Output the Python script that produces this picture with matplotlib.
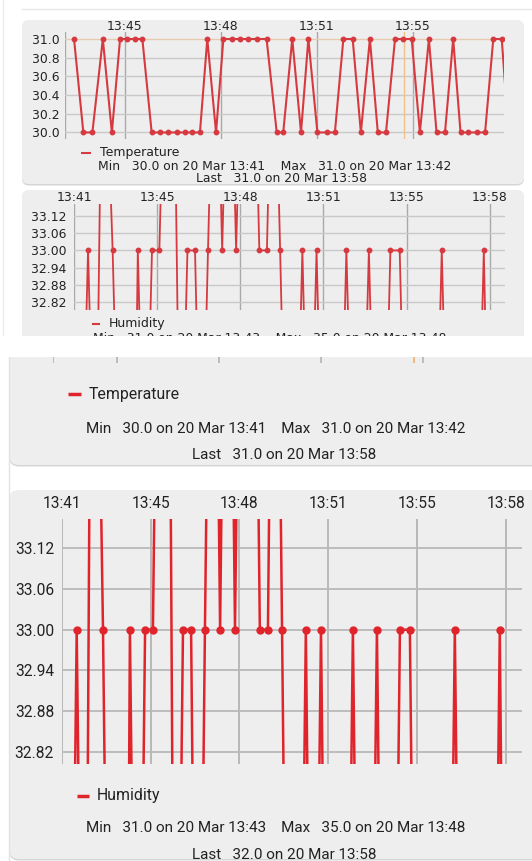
import matplotlib
matplotlib.use('Agg')
import matplotlib.pyplot as plt
import matplotlib.transforms as mtransforms
from matplotlib.patches import FancyBboxPatch, Rectangle
from matplotlib.lines import Line2D

# minutes after 13:41
tick_pos = [0, 3.4, 6.8, 10.2, 13.6, 17.0]
tick_lab = ['13:41', '13:45', '13:48', '13:51', '13:55', '13:58']

temp_t = [1.61, 1.94, 2.26, 2.63, 2.95, 3.24, 3.48, 3.77, 4.03, 4.36, 4.66, 4.95,
          5.25, 5.54, 5.78, 6.07, 6.33, 6.64, 6.90, 7.20, 7.49, 7.78, 8.08, 8.43,
          8.79, 9.02, 9.34, 9.65, 9.91, 10.23, 10.56, 10.85, 11.15, 11.48, 11.77,
          12.09, 12.37, 12.66, 12.98, 13.27, 13.57, 13.86, 14.18, 14.45, 14.75,
          15.04, 15.30, 15.57, 15.87, 16.17, 16.46, 16.76, 17.00]
temp_v = [31, 30, 30, 31, 30, 31, 31, 31, 31, 30, 30, 30,
          30, 30, 30, 30, 31, 30, 31, 31, 31, 31, 31, 31,
          30, 30, 31, 30, 31, 30, 30, 30, 31, 31, 30,
          31, 30, 30, 31, 31, 31, 30, 31, 30, 30,
          31, 30, 30, 30, 30, 31, 31, 30]

hum_t = [0.0, 0.28, 0.574, 0.88, 1.18, 1.58, 1.88, 2.31, 2.61, 2.90, 3.19, 3.49,
         3.79, 4.05, 4.35, 4.64, 4.95, 5.20, 5.48, 5.78, 6.06, 6.35, 6.63, 6.93,
         7.12, 7.30, 7.58, 7.89, 8.15, 8.43, 8.70, 9.05, 9.34, 9.62, 9.92, 10.20,
         10.50, 10.85, 11.14, 11.44, 11.75, 12.06, 12.35, 12.65, 12.94, 13.32,
         13.60, 13.90, 14.20, 14.50, 14.75, 15.04, 15.33, 15.60, 15.90, 16.20,
         16.47, 16.76, 17.00]
hum_v = [32, 32, 33, 32, 34, 33, 32, 31, 33, 32, 33, 33,
         34, 34, 32, 33, 33, 32, 33, 34, 33, 34, 33, 34,
         35, 34, 33, 33, 34, 33, 32, 32, 33, 32, 33, 32,
         32, 32, 33, 32, 32, 33, 32, 32, 33, 33,
         32, 32, 32, 32, 32, 33, 32, 32, 32, 32,
         32, 33, 32]

temp_yticks = [30.0, 30.2, 30.4, 30.6, 30.8, 31.0]
hum_yticks = [32.82, 32.88, 32.94, 33.00, 33.06, 33.12]
marker_t = 13.3   # orange cursor line

temp_stats = ['Min   30.0 on 20 Mar 13:41    Max   31.0 on 20 Mar 13:42',
              'Last   31.0 on 20 Mar 13:58']
hum_stats = ['Min   31.0 on 20 Mar 13:43    Max   35.0 on 20 Mar 13:48',
             'Last   32.0 on 20 Mar 13:58']

RED = '#e0242c'
RED_S = '#d63a40'
CARD = '#eeeeee'

W, H = 532, 861
fig = plt.figure(figsize=(W / 100, H / 100), dpi=100)
fig.patch.set_facecolor('white')
PX = mtransforms.Affine2D().scale(1 / 100) + fig.dpi_scale_trans


def card(x0, y0, x1, y1, r):
    sh = FancyBboxPatch((x0, H - y1 - 1.5), x1 - x0, y1 - y0,
                        boxstyle=f'round,pad=0,rounding_size={r}',
                        transform=PX, fc='#d6d6d6', ec='none', zorder=-2)
    body = FancyBboxPatch((x0, H - y1), x1 - x0, y1 - y0,
                          boxstyle=f'round,pad=0,rounding_size={r}',
                          transform=PX, fc=CARD, ec='none', zorder=-1)
    fig.patches.extend([sh, body])


def add_ax(x0, y0, x1, y1):
    ax = fig.add_axes([x0 / W, 1 - y1 / H, (x1 - x0) / W, (y1 - y0) / H])
    ax.set_facecolor('none')
    for s in ax.spines.values():
        s.set_visible(False)
    return ax


def text(x, y, s, **kw):
    fig.text(x, H - y, s, transform=PX, va='center', **kw)


def legend(x, y, name, dash, fs, family, color, lw, gap=9):
    fig.lines.append(Line2D([x, x + dash], [H - y, H - y], transform=PX,
                            color=color, lw=lw, solid_capstyle='butt'))
    text(x + dash + gap, y, name, fontsize=fs, family=family, color='#222222')


def grid(ax, xs, ys, vcol, hcol, lw):
    for x in xs:
        ax.axvline(x, color=vcol, lw=lw, zorder=1)
    for y in ys:
        ax.axhline(y, color=hcol, lw=lw, zorder=1)


# faint page edges
fig.lines.append(Line2D([2.5, 2.5], [H, H - 336], transform=PX, color='#ececec', lw=1))
fig.lines.append(Line2D([22, 532], [H - 8.5, H - 8.5], transform=PX, color='#e6e6e6', lw=1))
fig.lines.append(Line2D([8.5, 8.5], [H - 350, 0], transform=PX, color='#e2e2e2', lw=1))

# ---- small temperature chart
card(22, 20, 524, 184, 7)
ax = add_ax(65, 32, 504, 139)
ax.set_xlim(1.29, 16.84)
ax.set_ylim(29.93, 31.075)
grid(ax, [1.29] + tick_pos[1:5], temp_yticks[:-1], '#a9a9a9', '#c9c9c9', 1.0)
ax.axhline(31.0, color='#e6cbb0', lw=1.0, zorder=1)
ax.axvline(marker_t, color='#f2c08a', lw=1.0, zorder=1)
ax.plot(temp_t, temp_v, color=RED_S, lw=1.5, marker='o', ms=3.2, zorder=3)
ax.set_xticks(tick_pos[1:5])
ax.set_xticklabels(tick_lab[1:5])
ax.set_yticks(temp_yticks)
ax.set_yticklabels([f'{v:.1f}' for v in temp_yticks])
ax.xaxis.tick_top()
ax.tick_params(length=0, labelsize=8.9, labelcolor='#222222')
ax.tick_params(axis='x', pad=-0.8)
ax.tick_params(axis='y', pad=4)
legend(81, 152.7, 'Temperature', 10, 9, 'DejaVu Sans', RED_S, 1.5)
text(275, 167, temp_stats[0], fontsize=8.9, family='DejaVu Sans', color='#222222', ha='center')
text(282, 178.8, temp_stats[1], fontsize=8.9, family='DejaVu Sans', color='#222222', ha='center')

# ---- small humidity chart
card(22, 190, 524, 345, 7)
ax = add_ax(74, 204, 504.6, 310)
ax.set_xlim(0, 17.61)
ax.set_ylim(32.792, 33.162)
grid(ax, tick_pos, hum_yticks, '#a9a9a9', '#c9c9c9', 1.0)
ax.plot(hum_t, hum_v, color=RED_S, lw=1.3, marker='o', ms=3.2, zorder=3)
ax.set_xticks(tick_pos)
ax.set_xticklabels(tick_lab)
ax.set_yticks(hum_yticks)
ax.set_yticklabels([f'{v:.2f}' for v in hum_yticks])
ax.xaxis.tick_top()
ax.tick_params(length=0, labelsize=8.9, labelcolor='#222222')
ax.tick_params(axis='x', pad=0)
ax.tick_params(axis='y', pad=5.5)
legend(92, 324, 'Humidity', 8, 9, 'DejaVu Sans', RED_S, 1.5)
text(270, 338, hum_stats[0], fontsize=8.9, family='DejaVu Sans', color='#222222', ha='center')

# gap between the two screenshots
fig.patches.append(Rectangle((0, H - 357), W, 21, transform=PX, fc='white', ec='none', zorder=10))

# ---- large temperature chart (only its bottom edge is visible)
card(9, 345, 560, 465, 10)
ax = add_ax(53.3, 357, 520.7, 362.5)
ax.set_xlim(1.29, 16.84)
ax.set_ylim(29.93, 29.985)
grid(ax, [1.29] + tick_pos[1:5], [], '#b4b4b4', '#c9c9c9', 1.2)
ax.axvline(marker_t, color='#f2b070', lw=1.2, zorder=1)
ax.plot(temp_t, temp_v, color=RED, lw=2, zorder=3)
ax.set_xticks([])
ax.set_yticks([])
legend(68, 394.3, 'Temperature', 13, 11.4, 'Roboto', RED, 2.5, 8)
text(276, 428.9, temp_stats[0], fontsize=11, family='Roboto', color='#222222', ha='center')
text(283.8, 454.7, temp_stats[1], fontsize=11, family='Roboto', color='#222222', ha='center')

# ---- large humidity chart
card(9, 490, 560, 859, 10)
ax = add_ax(61.7, 519, 522, 763.5)
ax.set_xlim(0, 17.61)
ax.set_ylim(32.803, 33.163)
grid(ax, tick_pos, hum_yticks, '#b4b4b4', '#b8b8b8', 1.3)
ax.plot(hum_t, hum_v, color=RED, lw=1.8, marker='o', ms=5, zorder=3)
ax.set_xticks(tick_pos)
ax.set_xticklabels(tick_lab)
ax.set_yticks(hum_yticks)
ax.set_yticklabels([f'{v:.2f}' for v in hum_yticks])
ax.xaxis.tick_top()
ax.tick_params(length=0, labelsize=11.2, labelcolor='#222222')
for lab in ax.get_xticklabels() + ax.get_yticklabels():
    lab.set_family('Roboto')
ax.tick_params(axis='x', pad=6)
ax.tick_params(axis='y', pad=5.5)
legend(77, 795.7, 'Humidity', 12, 11.4, 'Roboto', RED, 2.5, 8)
text(276, 828, hum_stats[0], fontsize=11, family='Roboto', color='#222222', ha='center')
text(283.8, 855, hum_stats[1], fontsize=11, family='Roboto', color='#222222', ha='center')

fig.savefig('out.png', dpi=100)
